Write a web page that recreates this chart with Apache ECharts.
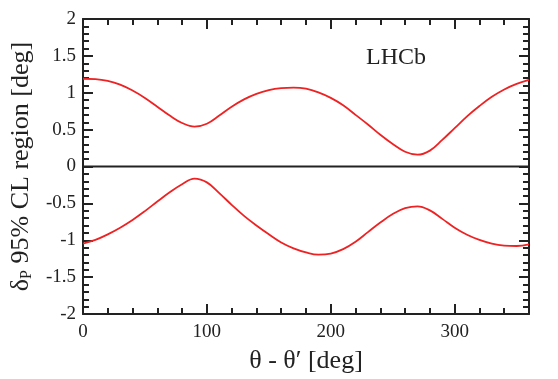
<!DOCTYPE html>
<html><head><meta charset="utf-8">
<script src="https://cdn.jsdelivr.net/npm/echarts@6/dist/echarts.min.js"></script>
<style>html,body{margin:0;padding:0;background:#fff}#c{width:558px;height:379px}</style>
</head><body><div id="c"></div>
<script>
const xDeg = [0,10,20,30,40,50,60,70,80,90,100,110,120,130,140,150,160,170,180,190,200,210,220,230,240,250,260,270,280,290,300,310,320,330,340,350,360];
const upperBound = [1.19,1.185,1.16,1.11,1.03,0.93,0.81,0.69,0.59,0.54,0.58,0.69,0.81,0.91,0.985,1.035,1.062,1.07,1.055,1.005,0.93,0.83,0.70,0.57,0.43,0.305,0.20,0.16,0.215,0.36,0.52,0.68,0.82,0.945,1.045,1.12,1.175];
const lowerBound = [-1.045,-0.995,-0.92,-0.83,-0.725,-0.605,-0.475,-0.35,-0.24,-0.165,-0.215,-0.36,-0.52,-0.67,-0.80,-0.92,-1.03,-1.11,-1.165,-1.195,-1.18,-1.12,-1.02,-0.89,-0.76,-0.645,-0.565,-0.54,-0.595,-0.71,-0.83,-0.925,-0.995,-1.045,-1.072,-1.078,-1.055];
const zeroLine = [[0,0],[360,0]];
const xTicks = [0,100,200,300];
const yTicks = [-2,-1.5,-1,-0.5,0,0.5,1,1.5,2];

const font = 'Liberation Serif';
const chart = echarts.init(document.getElementById('c'));
const axLine = {show:true, onZero:false, lineStyle:{color:'#222', width:2}};
const tickX = {show:true, inside:true, length:10, lineStyle:{color:'#222', width:2}};
const minorX = {show:true, splitNumber:5, length:6, lineStyle:{color:'#222', width:2}};
const minorY = {show:true, splitNumber:5, length:6, lineStyle:{color:'#222', width:2}};
chart.setOption({
  animation:false,
  backgroundColor:'#fff',
  title:{text:'LHCb', left:361, top:41, textStyle:{fontFamily:font, fontWeight:'normal', fontSize:24, color:'#222'}},
  grid:{left:78, right:29, top:19, bottom:61},
  xAxis:[
    {type:'value', min:0, max:360, interval:100, position:'bottom',
     axisLine:axLine, axisTick:tickX, minorTick:minorX, splitLine:{show:false},
     axisLabel:{fontFamily:font, fontSize:19, color:'#222', margin:9,
       formatter:v=>xTicks.includes(v)?String(v):''},
     name:'θ - θ′ [deg]', nameLocation:'middle', nameGap:34,
     nameTextStyle:{fontFamily:font, fontSize:26, color:'#222'}},
    {type:'value', min:0, max:360, interval:100, position:'top',
     axisLine:axLine, axisTick:tickX, minorTick:minorX, splitLine:{show:false}, axisLabel:{show:false}}
  ],
  yAxis:[
    {type:'value', min:-2, max:2, interval:0.5, position:'left',
     axisLine:axLine, axisTick:tickX, minorTick:minorY, splitLine:{show:false},
     axisLabel:{fontFamily:font, fontSize:19, color:'#222', margin:7,
       formatter:v=>{const t=yTicks.find(q=>Math.abs(q-v)<1e-9);return t===undefined?'':String(t);}},
     name:'{a|δ}{s|P}{a| 95% CL region [deg]}', nameLocation:'middle', nameGap:45,
     nameTextStyle:{fontFamily:font, fontSize:26, color:'#222',
       rich:{a:{fontFamily:font, fontSize:26, color:'#222'}, s:{fontFamily:font, fontSize:16, color:'#222', padding:[12,0,0,0]}}}},
    {type:'value', min:-2, max:2, interval:0.5, position:'right',
     axisLine:axLine, axisTick:tickX, minorTick:minorY, splitLine:{show:false}, axisLabel:{show:false}}
  ],
  series:[
    {type:'line', data:zeroLine, symbol:'none', lineStyle:{color:'#222', width:2}, silent:true},
    {type:'line', data:xDeg.map((x,i)=>[x,upperBound[i]]), smooth:0.4, symbol:'none', lineStyle:{color:'#ee2222', width:1.8}},
    {type:'line', data:xDeg.map((x,i)=>[x,lowerBound[i]]), smooth:0.4, symbol:'none', lineStyle:{color:'#ee2222', width:1.8}}
  ]
});
</script></body></html>
